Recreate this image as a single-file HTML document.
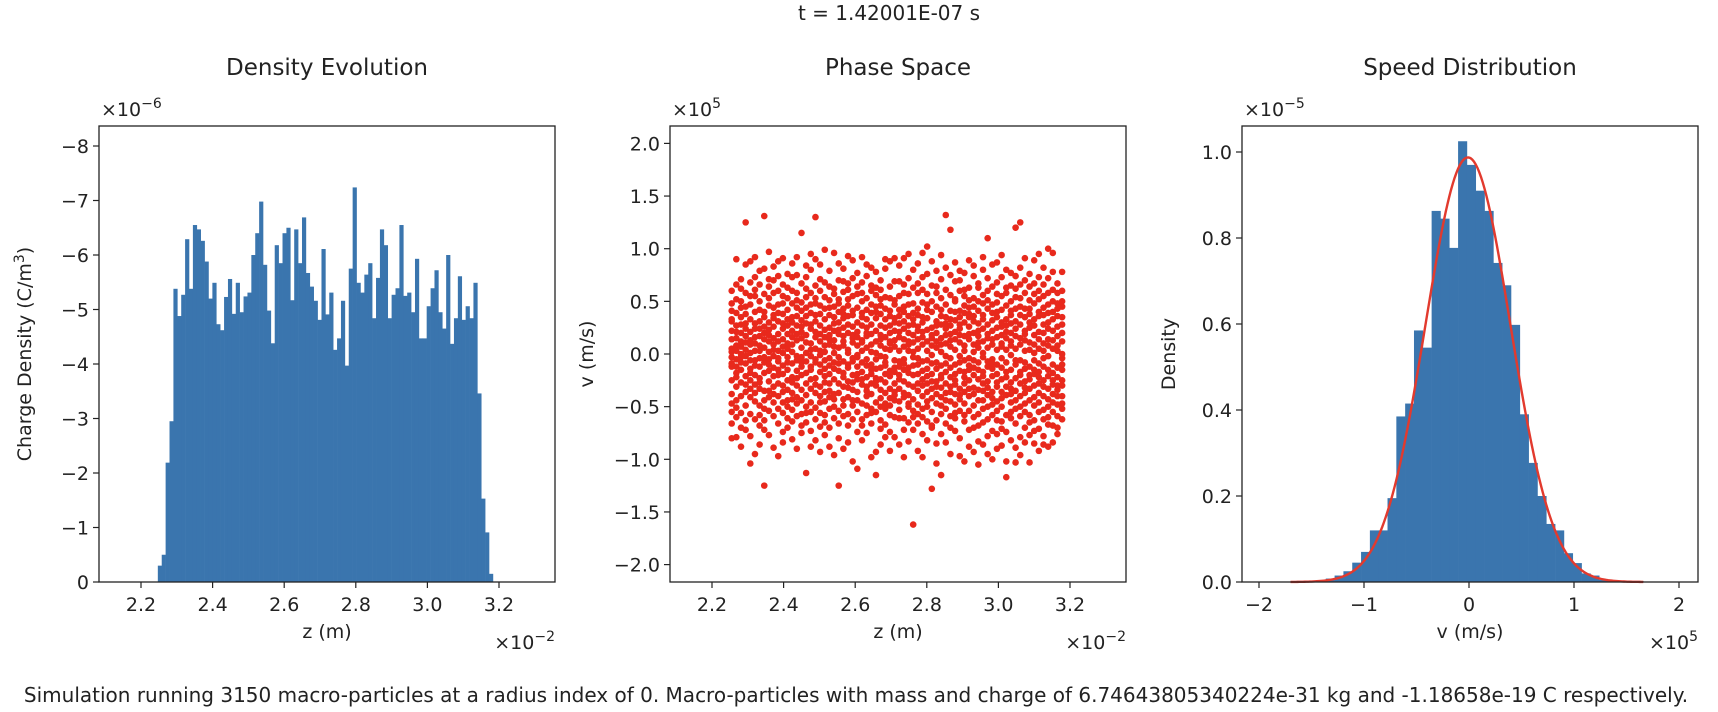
<!DOCTYPE html>
<html><head><meta charset="utf-8">
<style>
html,body{margin:0;padding:0;background:#fff;}
svg{display:block;font-family:"DejaVu Sans","Liberation Sans",sans-serif;}
</style></head>
<body>
<svg id="fig" width="1718" height="712" viewBox="0 0 1718 712" xmlns="http://www.w3.org/2000/svg">
<text x="889" y="20" text-anchor="middle" font-size="20" fill="#222">t = 1.42001E-07 s</text>
<text x="856" y="702" text-anchor="middle" font-size="20" fill="#222">Simulation running 3150 macro-particles at a radius index of 0. Macro-particles with mass and charge of 6.74643805340224e-31 kg and -1.18658e-19 C respectively.</text>
<g id="p1"></g>
<g id="p2"></g>
<g id="p3"></g>
</svg>
<script>
// ---- Density Evolution data (units 1e-6 C/m^3) ----
const densityValues = [-0.3,-0.5,-2.19,-2.95,-5.38,-4.88,-5.27,-6.29,-5.38,-6.55,-6.47,-6.26,-5.88,-5.2,-5.49,-4.73,-4.62,-5.23,-5.56,-4.92,-5.49,-4.95,-5.24,-5.31,-6.0,-6.40,-6.98,-5.82,-4.98,-4.38,-6.18,-5.85,-6.40,-6.50,-5.17,-6.47,-5.85,-6.69,-5.67,-5.42,-5.16,-4.81,-6.11,-4.91,-5.31,-4.26,-4.47,-5.16,-3.97,-5.75,-7.24,-5.49,-5.31,-5.64,-5.85,-4.84,-5.58,-6.47,-6.18,-4.84,-5.27,-5.39,-6.55,-5.25,-5.31,-4.95,-5.93,-4.47,-4.47,-5.06,-5.39,-5.72,-4.95,-4.65,-6.0,-4.37,-4.84,-5.61,-4.81,-5.06,-4.84,-5.49,-3.46,-1.53,-0.91,-0.15];
const densityRange = [2.247, 3.183];
const densityYTicks = [0,-1,-2,-3,-4,-5,-6,-7,-8];
const zTicks = [2.2,2.4,2.6,2.8,3.0,3.2];
const zTickLabels = ["2.2","2.4","2.6","2.8","3.0","3.2"];

// ---- Phase space data: [z (1e-3 of 1e-2 m), v values (0.01e5 m/s)] ----
const phaseColumns = [
[2255,48,31,5,-12,-38,-55,-80,22,14,-3,-25,41,-66,60,-9,33,-47,2],
[2268,-79,-44,-18,8,27,52,66,-5,15,-31,39,-60,90,-22,3,-12,21,-51],
[2281,62,-88,12,-3,35,-27,-56,20,44,-15,7,-40,71,-8,28,-70,0,50],
[2294,125,-72,17,-36,4,29,-9,58,-49,38,-21,11,85,-63,-2,45,-29,24],
[2307,88,-104,-33,9,21,-14,47,-57,33,-6,68,-41,13,-25,55,-78,1,-18],
[2320,-6,40,-62,16,-29,73,-11,29,-45,55,92,-95,3,-20,24,-37,61,10],
[2333,50,-23,8,-68,31,-4,17,-49,79,-33,42,-12,-86,24,-58,3,66,-27],
[2346,131,-125,26,-8,40,-35,57,-18,6,-52,81,-72,14,-3,35,-44,20,-63],
[2359,-35,12,64,-77,23,-16,46,-5,30,-41,97,-54,2,18,-26,53,-10,71],
[2372,9,-59,34,-21,70,-2,44,-38,15,-89,26,-13,58,-46,4,83,-31,37],
[2385,-20,47,-7,88,-66,19,-40,31,-52,60,3,-28,12,-97,39,-15,74,-4],
[2398,24,-11,55,-30,7,-74,38,-46,66,-19,91,1,-56,29,-36,14,-84,48],
[2411,-44,19,-3,63,-25,42,-61,10,-34,76,27,-8,53,-70,-15,33,-50,5],
[2424,73,-37,16,-53,2,35,-22,86,-9,48,-81,22,-43,60,-27,9,-64,30],
[2437,-16,58,-41,27,-6,75,-30,13,44,-59,92,-2,36,-23,-90,51,19,-47],
[2450,115,-57,21,-12,49,-34,6,-75,32,-20,67,-44,15,-3,41,-68,26,-8],
[2463,-28,36,-50,11,84,-18,54,-65,1,29,-39,73,-113,18,-7,44,-56,62],
[2476,95,-46,24,-33,-2,58,-15,39,-73,10,-55,28,-24,80,4,-88,47,-12],
[2489,130,-23,65,-8,31,-51,16,-37,48,-82,5,90,-29,21,-62,37,-5,53],
[2502,-40,12,-69,46,-17,27,-56,3,71,-10,38,-31,60,-93,19,-46,85,-1],
[2515,23,-65,43,-21,8,-45,99,-14,33,-77,16,-6,54,-36,68,-27,2,-58],
[2528,-11,51,-35,18,-88,64,-4,37,-52,25,-19,79,-41,9,-70,44,-28,14],
[2541,96,-50,29,-14,45,-38,1,62,-24,13,-61,35,-96,22,-8,57,-43,7],
[2554,-125,70,-9,40,-28,19,-66,52,-16,86,-37,6,30,-54,-3,48,-80,23],
[2567,34,-18,81,-43,12,-31,59,-7,25,-59,43,-22,69,-90,8,-49,17,38],
[2580,-57,28,-10,67,-26,4,46,-68,20,-41,93,-13,36,-84,52,-32,1,61],
[2593,72,-34,15,-49,37,-7,-102,26,-20,55,-62,11,41,-27,89,-4,-44,18],
[2606,-24,57,-44,8,-74,30,-12,64,-36,21,-55,77,-3,44,-109,16,-19,-1],
[2619,92,-62,35,-17,50,-29,3,-82,27,-47,13,68,-8,39,-24,58,-68,11],
[2632,-49,20,-31,74,-11,42,-58,6,33,-22,85,-40,17,-75,-5,53,-35,25],
[2645,60,-15,39,-66,2,-38,28,-10,65,-52,19,-28,47,-98,9,-56,82,-19],
[2658,-93,45,-23,12,-55,34,-5,56,-30,78,-14,22,-46,-115,40,-26,63,1],
[2671,27,-71,8,-34,61,-13,46,-50,18,-86,38,-2,70,-24,-42,14,-63,52],
[2684,-8,54,-27,33,-47,81,-19,5,-67,25,-37,90,-11,43,-79,16,-52,-3],
[2697,88,-42,20,-58,10,-21,53,-33,36,-74,4,-16,64,-49,27,-92,41,12],
[2710,-36,13,-79,47,-6,30,-44,69,-17,22,-60,7,51,-28,91,-39,-13,34],
[2723,69,-24,42,-7,-53,16,-33,84,-61,29,-12,55,-45,3,-86,36,-20,21],
[2736,-61,31,-15,58,-41,7,24,-72,45,-26,91,-5,14,-37,66,-98,-9,40],
[2749,47,-83,9,-29,36,-50,20,-13,72,-39,3,57,-65,27,-18,95,-47,12],
[2762,-162,-43,63,-20,28,-60,11,-3,39,-31,80,-72,18,-11,48,-54,2,33],
[2775,86,-10,37,-66,22,-35,5,-48,58,-19,67,-92,14,-28,43,-4,-57,26],
[2788,-30,73,-52,16,-16,-98,49,-7,30,-40,9,61,-24,-76,35,-60,21,96],
[2801,102,-28,42,-6,-45,23,-82,12,-36,57,-14,-64,34,-21,76,-50,3,47],
[2814,-55,18,-33,65,-9,-128,40,-42,25,-70,8,50,-19,88,-26,15,-68,-1],
[2827,58,-14,31,-47,6,-26,79,-63,20,-38,45,-104,12,-8,64,-31,27,-85],
[2840,-20,94,-41,9,36,-57,15,-32,53,-11,71,-76,28,-49,2,42,-23,-115],
[2853,132,-66,24,-17,47,-37,-2,61,-28,10,-52,35,-84,18,-9,82,-44,29],
[2866,118,-45,19,-70,33,-22,56,-4,-36,27,-59,13,75,-13,-95,41,-31,7],
[2879,-38,69,-19,40,-61,4,-29,52,21,-48,87,-10,32,-73,14,-56,-25,50],
[2892,79,-97,35,-8,-43,24,-16,60,-54,11,-33,41,-80,28,-2,70,-39,18],
[2905,-17,55,-64,3,30,-36,77,-22,46,-47,17,-102,8,-28,61,-6,39,-58],
[2918,44,-25,89,-40,14,-11,38,-72,26,-54,63,-4,51,-33,-88,19,-15,35],
[2931,-70,36,-6,53,-32,20,-49,74,-13,31,-93,9,-38,45,-20,84,-60,2],
[2944,63,-34,17,-83,41,-24,6,-57,29,-8,67,-44,22,-68,50,-15,-105,11],
[2957,-44,80,-28,12,-65,48,-3,33,-52,24,-17,56,-86,1,37,-35,92,-21],
[2970,110,-62,28,-12,51,-39,15,-95,43,-26,72,-7,-50,19,-32,60,-78,6],
[2983,-5,64,-42,22,-73,9,-21,47,-58,32,-14,85,-36,14,-100,39,-48,-9],
[2996,87,-19,49,-54,4,-31,35,-76,16,-45,68,-10,25,-63,57,-27,-90,40],
[3009,-64,26,-13,73,-36,10,-87,42,-24,55,-50,18,-4,94,-42,30,-71,7],
[3022,58,-102,33,-22,-8,46,-58,15,-39,80,-17,27,-74,4,63,-31,-117,21],
[3035,-27,77,-46,12,-61,37,-1,50,-33,20,-82,65,-15,41,-55,8,-38,29],
[3048,120,-35,62,-10,31,-52,17,-89,43,-23,74,-66,5,-44,24,-6,54,-103],
[3061,125,-50,28,-79,45,-17,9,-40,66,-28,-96,37,-6,15,-59,53,-20,82],
[3074,-8,70,-32,22,-70,43,-14,58,-47,3,-26,35,-84,13,91,-55,-37,19],
[3087,64,-24,-103,38,-58,11,-33,51,-12,76,-44,25,-77,4,-20,43,-65,30],
[3100,-19,57,-41,89,-6,33,-63,18,-30,67,-85,9,-49,27,-15,48,-73,1],
[3113,73,-46,21,-22,52,-71,36,-9,-55,14,-37,60,-28,40,-92,5,-17,95],
[3126,-31,66,-53,10,-78,28,-12,44,-40,20,82,-62,3,-25,37,-86,55,-4],
[3139,100,-67,30,-15,47,-33,72,-50,8,-88,24,-21,58,-43,14,-60,39,-2],
[3152,96,-38,13,-84,40,-25,61,-10,22,-68,50,-46,5,-29,78,-55,-18,33],
[3165,-70,48,-22,36,-48,8,-34,67,-59,26,-13,58,-76,17,-40,43,-30,3],
[3178,78,-30,45,-15,28,-52,60,-4,12,-40,50,-62,20,-25,35,-47,0,-10]
];
const phaseYTicks = [2.0,1.5,1.0,0.5,0.0,-0.5,-1.0,-1.5,-2.0];
const phaseYTickLabels = ["2.0","1.5","1.0","0.5","0.0","−0.5","−1.0","−1.5","−2.0"];

// ---- Speed distribution data (density 1e-5, v 1e5 m/s) ----
const speedDensity = [0.001,0.002,0.002,0.004,0.008,0.015,0.025,0.045,0.07,0.12,0.12,0.195,0.385,0.415,0.585,0.545,0.863,0.845,0.777,1.025,0.97,0.91,0.863,0.742,0.69,0.598,0.39,0.277,0.2,0.135,0.12,0.067,0.044,0.02,0.015,0.005,0.003,0.0,0.002,0.002];
const speedRange = [-1.70, 1.66];
const fitMean = [-0.01];
const fitSigma = [0.404];
const speedXTicks = [-2,-1,0,1,2];
const speedXTickLabels = ["−2","−1","0","1","2"];
const speedYTicks = [0.0,0.2,0.4,0.6,0.8,1.0];
const speedYTickLabels = ["0.0","0.2","0.4","0.6","0.8","1.0"];

const NS = "http://www.w3.org/2000/svg";
function mk(parent, tag, attrs, text){
  const e = document.createElementNS(NS, tag);
  for (const k in attrs) e.setAttribute(k, attrs[k]);
  if (text !== undefined) e.textContent = text;
  parent.appendChild(e);
  return e;
}
const TOP = 126, BOT = 582, W = 456;
const C_BLUE = "#3a75ae", C_RED = "#e8291c", C_TXT = "#222";
const FS = 19;

function frame(g, left){
  const r = mk(g, "rect", {x:left, y:TOP, width:W, height:BOT-TOP, fill:"none", stroke:"#222", "stroke-width":1.3});
  
  
}
function xTick(g, x, label){
  const l = mk(g, "line", {x1:x, x2:x, y1:BOT, y2:BOT+6, stroke:"#222", "stroke-width":1.2});
  
  
  const t = mk(g, "text", {x:x, y:BOT+29, "text-anchor":"middle", "font-size":FS, fill:C_TXT}, label);
  
  
}
function yTick(g, left, y, label){
  const l = mk(g, "line", {x1:left-6, x2:left, y1:y, y2:y, stroke:"#222", "stroke-width":1.2});
  
  
  const t = mk(g, "text", {x:left-10, y:y+7, "text-anchor":"end", "font-size":FS, fill:C_TXT}, label);
  
  
}
function label(g, name, x, y, txt, size, anchor, rot){
  const a = {x:x, y:y, "text-anchor":anchor||"middle", "font-size":size, fill:C_TXT};
  if (rot) a.transform = "rotate(-90 "+x+" "+y+")";
  const t = mk(g, "text", a);
  t.innerHTML = txt;
  
  
  return t;
}

// ===== Panel 1 =====
(function(){
  const g = document.getElementById("p1");
  const L = 99;
  const xS = z => L + 42 + (z - 2.2) * 358;
  const yS = v => BOT + v * 54.5;
  const n = densityValues.length;
  const bw = (densityRange[1] - densityRange[0]) / n;
  densityValues.forEach((v, i) => {
    const x0 = xS(densityRange[0] + i*bw), x1 = xS(densityRange[0] + (i+1)*bw);
    const r = mk(g, "rect", {x:x0, y:yS(v), width:x1-x0+0.3, height:BOT-yS(v), fill:C_BLUE});
    
    
  });
  frame(g, L);
  zTicks.forEach((z,i) => xTick(g, xS(z), zTickLabels[i]));
  densityYTicks.forEach(v => yTick(g, L, yS(v), v === 0 ? "0" : "−" + Math.abs(v)));
  label(g, "density-title", L + W/2, 75, "Density Evolution", 23);
  label(g, "density-y-offset", L + 2, 116, "×10<tspan dy='-8' font-size='14'>−6</tspan>", FS, "start");
  label(g, "density-x-label", L + W/2, 638, "z (m)", FS);
  label(g, "density-x-offset", L + W, 649, "×10<tspan dy='-8' font-size='14'>−2</tspan>", FS, "end");
  label(g, "density-y-label", 31, (TOP+BOT)/2, "Charge Density (C/m<tspan dy='-7' font-size='14'>3</tspan><tspan dy='7'>)</tspan>", FS, "middle", true);
})();

// ===== Panel 2 =====
(function(){
  const g = document.getElementById("p2");
  const L = 670;
  const xS = z => L + 42 + (z - 2.2) * 358;
  const yS = v => 354 - v * 105.3;
  const dots = mk(g, "g", {fill:C_RED});
  
  
  phaseColumns.forEach(col => {
    const z = col[0] / 1000;
    for (let k = 1; k < col.length; k++){
      const c = mk(dots, "circle", {cx:xS(z), cy:yS(col[k]/100), r:3.3});
      
      
    }
  });
  frame(g, L);
  zTicks.forEach((z,i) => xTick(g, xS(z), zTickLabels[i]));
  phaseYTicks.forEach((v,i) => yTick(g, L, yS(v), phaseYTickLabels[i]));
  label(g, "phase-title", L + W/2, 75, "Phase Space", 23);
  label(g, "phase-y-offset", L + 2, 116, "×10<tspan dy='-8' font-size='14'>5</tspan>", FS, "start");
  label(g, "phase-x-label", L + W/2, 638, "z (m)", FS);
  label(g, "phase-x-offset", L + W, 649, "×10<tspan dy='-8' font-size='14'>−2</tspan>", FS, "end");
  label(g, "phase-y-label", 593, (TOP+BOT)/2, "v (m/s)", FS, "middle", true);
})();

// ===== Panel 3 =====
(function(){
  const g = document.getElementById("p3");
  const L = 1242;
  const xS = v => 1469 + v * 105;
  const yS = d => BOT - d * 430;
  const n = speedDensity.length;
  const bw = (speedRange[1] - speedRange[0]) / n;
  speedDensity.forEach((d, i) => {
    const x0 = xS(speedRange[0] + i*bw), x1 = xS(speedRange[0] + (i+1)*bw);
    const r = mk(g, "rect", {x:x0, y:yS(d), width:x1-x0+0.3, height:BOT-yS(d), fill:C_BLUE});
    
    
  });
  let dstr = "";
  const steps = 200;
  for (let i = 0; i <= steps; i++){
    const v = speedRange[0] + (speedRange[1]-speedRange[0]) * i / steps;
    const p = Math.exp(-0.5*Math.pow((v-fitMean[0])/fitSigma[0],2)) / (fitSigma[0]*Math.sqrt(2*Math.PI));
    dstr += (i ? "L" : "M") + xS(v).toFixed(2) + "," + yS(p).toFixed(2);
  }
  const path = mk(g, "path", {d:dstr, fill:"none", stroke:"#e23a2e", "stroke-width":2.4});
  
  
  frame(g, L);
  speedXTicks.forEach((v,i) => xTick(g, xS(v), speedXTickLabels[i]));
  speedYTicks.forEach((d,i) => yTick(g, L, yS(d), speedYTickLabels[i]));
  label(g, "speed-title", L + W/2, 75, "Speed Distribution", 23);
  label(g, "speed-y-offset", L + 2, 116, "×10<tspan dy='-8' font-size='14'>−5</tspan>", FS, "start");
  label(g, "speed-x-label", L + W/2, 638, "v (m/s)", FS);
  label(g, "speed-x-offset", L + W, 649, "×10<tspan dy='-8' font-size='14'>5</tspan>", FS, "end");
  label(g, "speed-y-label", 1175, (TOP+BOT)/2, "Density", FS, "middle", true);
})();
</script>
</body></html>
